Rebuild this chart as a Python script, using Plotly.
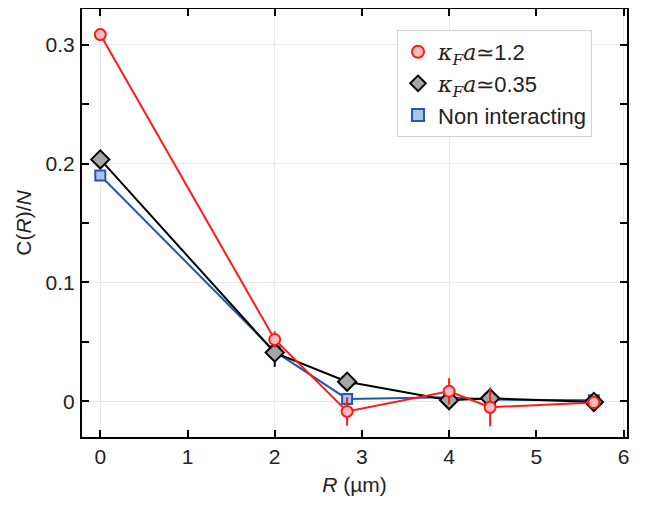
import plotly.graph_objects as go

R = [0, 2, 2.83, 4, 4.47, 5.66]

red_y = [0.3085, 0.052, -0.0085, 0.0085, -0.005, -0.001]
red_err = [0.0, 0.007, 0.012, 0.011, 0.016, 0.003]

black_y = [0.2035, 0.041, 0.0165, 0.001, 0.0025, -0.0005]
black_err = [0.0, 0.012, 0.0, 0.0, 0.009, 0.0]

blue_y = [0.190, 0.042, 0.002, 0.0035, 0.0015, 0.001]

x_ticks = [0, 1, 2, 3, 4, 5, 6]
y_ticks = [0, 0.1, 0.2, 0.3]
y_tick_labels = ["0", "0.1", "0.2", "0.3"]

KAPPA = '<span style="font-family:\'DejaVu Serif\'"><i>κ<sub>F</sub>a</i></span>'
names = [KAPPA + "≃1.2", KAPPA + "≃0.35", "Non interacting"]

FONT = "Liberation Sans"
TXT = "#222222"

styles = [
    dict(symbol="circle", size=11, color="#f7bcbc", line=dict(color="#ff1a1a", width=2)),
    dict(symbol="diamond", size=14, color="#a6a6a6", line=dict(color="black", width=2)),
    dict(symbol="square", size=10, color="#a9c3ea", line=dict(color="#2458a8", width=2)),
]

fig = go.Figure()

fig.add_trace(go.Scatter(
    x=R, y=blue_y, mode="lines+markers", showlegend=False,
    line=dict(color="#2458a8", width=2), marker=styles[2],
))
fig.add_trace(go.Scatter(
    x=R, y=black_y, mode="lines+markers", showlegend=False,
    line=dict(color="black", width=2),
    error_y=dict(type="data", array=black_err, color="black", thickness=2, width=0),
    marker=styles[1],
))
fig.add_trace(go.Scatter(
    x=R, y=red_y, mode="lines+markers", showlegend=False,
    line=dict(color="#ff1a1a", width=2),
    error_y=dict(type="data", array=red_err, color="#ff1a1a", thickness=2, width=0),
    marker=styles[0],
))

# legend entries (markers only)
for i in range(3):
    fig.add_trace(go.Scatter(
        x=[None], y=[None], mode="markers", name=names[i],
        marker=styles[i], legendrank=i + 1, hoverinfo="skip",
    ))

# carrier for the even-only vertical grid
fig.add_trace(go.Scatter(x=[None], y=[None], xaxis="x2", showlegend=False,
                         hoverinfo="skip", mode="markers"))

fig.update_layout(
    width=643, height=500,
    margin=dict(l=74, r=24, t=1, b=71),
    paper_bgcolor="white", plot_bgcolor="white",
    font=dict(family=FONT, size=20, color=TXT),
    showlegend=True,
    legend=dict(
        x=0.578, y=0.951, xanchor="left", yanchor="top",
        bgcolor="white", bordercolor="#d0d0d0", borderwidth=1,
        font=dict(family=FONT, size=22, color=TXT),
        itemsizing="constant", tracegroupgap=0, itemwidth=30,
    ),
    xaxis=dict(
        range=[-0.21, 6.04], tickvals=x_ticks, ticks="inside", ticklen=7, tickwidth=2,
        tickcolor="black", showline=True, linecolor="black", linewidth=2, mirror="allticks",
        showgrid=False, zeroline=False, automargin=False,
        tickfont=dict(family=FONT, size=21, color=TXT),
        title=dict(text="<i>R</i> (µm)", font=dict(family=FONT, size=21, color=TXT), standoff=10),
    ),
    xaxis2=dict(
        range=[-0.21, 6.04], overlaying="x", anchor="y", dtick=2, tick0=0,
        showgrid=True, gridcolor="#e8e8e8", gridwidth=1, showticklabels=False,
        ticks="", showline=False, zeroline=False, automargin=False,
    ),
    yaxis=dict(
        range=[-0.03, 0.33], tickvals=y_ticks, ticktext=y_tick_labels,
        ticks="inside", ticklen=7, tickwidth=2, tickcolor="black",
        showline=True, linecolor="black", linewidth=2, mirror="allticks",
        showgrid=True, gridcolor="#e8e8e8", gridwidth=1, zeroline=False, automargin=False,
        minor=dict(dtick=0.05, tick0=0, ticks="inside", ticklen=7, tickwidth=2,
                   tickcolor="black", showgrid=False),
        tickfont=dict(family=FONT, size=21, color=TXT),
        ticklabelstandoff=1,
        title=dict(text="C(<i>R</i>)/<i>N</i>", font=dict(family=FONT, size=21, color=TXT), standoff=8),
    ),
)

fig.write_html("out.html")
